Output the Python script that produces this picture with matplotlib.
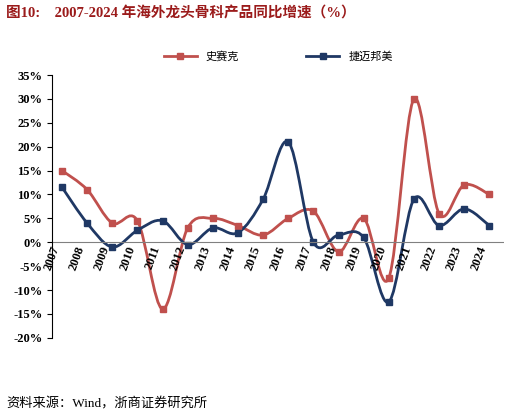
import numpy as np
import matplotlib.pyplot as plt
from matplotlib.path import Path
from matplotlib.patches import PathPatch
from matplotlib.lines import Line2D

plt.rcParams['font.family'] = ['Noto Sans CJK SC', 'DejaVu Sans']

years = list(range(2007, 2025))
stryker = [15, 11, 4, 4.5, -14, 3, 5, 3.5, 1.5, 5, 6.5, -2, 5, -7.5, 30, 6, 12, 10]
zimmer = [11.5, 4, -1, 2.5, 4.5, -0.5, 3, 2, 9, 21, 0, 1.5, 1, -12.5, 9, 3.5, 7, 3.5]
names = ['史赛克', '捷迈邦美']
colors = ['#C0504D', '#1F3864']
serif = ['Liberation Serif', 'Noto Sans CJK SC']


def smooth_path(x, y):
    # Catmull-Rom through the points, as cubic Bezier segments
    pts = np.column_stack([x, y]).astype(float)
    verts = [pts[0]]
    codes = [Path.MOVETO]
    n = len(pts)
    for i in range(n - 1):
        p0 = pts[max(i - 1, 0)]
        p1, p2 = pts[i], pts[i + 1]
        p3 = pts[min(i + 2, n - 1)]
        verts += [p1 + (p2 - p0) / 6, p2 - (p3 - p1) / 6, p2]
        codes += [Path.CURVE4] * 3
    return Path(verts, codes)


fig = plt.figure(figsize=(5.2, 4.17), dpi=100)
fig.text(0.012, 0.968, '图10:    2007-2024 年海外龙头骨科产品同比增速（%）',
         color='#9B1B1B', fontsize=10.5, fontweight='bold', va='center', family=serif)
fig.text(0.012, 0.03, '资料来源：Wind，浙商证券研究所', fontsize=9.5, va='center', family=serif)

ax = fig.add_axes([0.1, 0.19, 0.87, 0.63])
for vals, c in zip([stryker, zimmer], colors):
    ax.add_patch(PathPatch(smooth_path(years, vals), fill=False, edgecolor=c, lw=2))
    ax.plot(years, vals, 's', color=c, ms=5)

ax.set_ylim(-20, 35)
ax.set_xlim(2006.6, 2024.6)
ax.set_yticks(range(-20, 36, 5))
ax.set_yticklabels([f'{v}%' for v in range(-20, 36, 5)], fontsize=9, fontweight='bold',
                   family=serif)
ax.set_xticks([])
for s in ['top', 'right', 'bottom']:
    ax.spines[s].set_visible(False)
ax.axhline(0, color='#808080', lw=0.8)
for y in years:
    ax.text(y, -0.5, str(y), rotation=70, ha='right', va='top', fontsize=9,
            fontweight='bold', family=serif)

handles = [Line2D([], [], color=c, lw=2, marker='s', ms=5) for c in colors]
ax.legend(handles, names, loc='upper center', bbox_to_anchor=(0.5, 1.13), ncol=2,
          frameon=False, fontsize=8, handlelength=3, columnspacing=6)

fig.savefig('out.png', dpi=100)
